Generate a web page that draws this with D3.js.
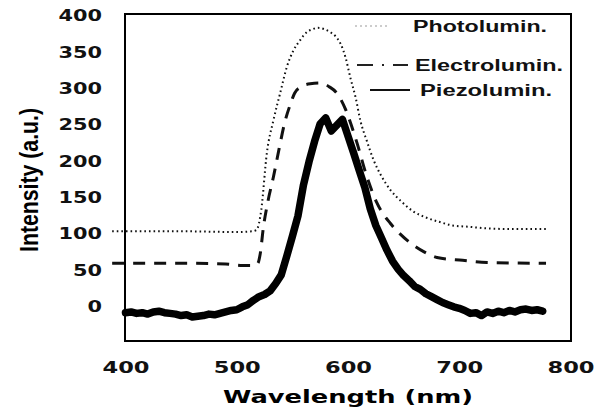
<!DOCTYPE html>
<html>
<head>
<meta charset="utf-8">
<script src="https://cdn.jsdelivr.net/npm/d3@7"></script>
<style>
  body { margin: 0; background: #fff; }
  svg { display: block; }
</style>
</head>
<body>
<svg id="chart" width="608" height="414"></svg>
<script>
// Spectra (wavelength in nm, intensity in a.u.)
const photoWl  = [388, 450, 500, 514, 518, 520, 522, 527, 533, 539, 545, 551, 557, 563, 568, 573, 579, 584, 589, 593, 598, 602, 607, 611, 617, 623, 630, 638, 648, 658, 670, 682, 694, 710, 725, 750, 778];
const photoVal = [104, 104, 103, 104, 106, 115, 133, 211, 257, 294, 330, 353, 367, 378, 382, 384, 382, 378, 372, 363, 342, 316, 287, 257, 228, 202, 180, 161, 145, 132, 123, 117, 112, 110, 108, 107, 107];

const electroWl  = [388, 450, 490, 505, 516, 519, 521, 524, 528, 533, 538, 543, 548, 552, 558, 566, 575, 583, 590, 598, 603, 608, 617, 626, 638, 647, 656, 668, 680, 703, 725, 778];
const electroVal = [60, 60, 59, 57, 57, 60, 72, 110, 145, 179, 217, 253, 278, 294, 303, 307, 308, 303, 294, 271, 250, 226, 179, 143, 115, 100, 88, 76, 68, 64, 61, 60];

// piezo spectrum is noisy, one reading every 5 nm from 400 to 775
const piezoWl = d3.range(400, 776, 5);
const piezoVal = [-8, -7, -9, -8, -10, -7, -6, -8, -9, -10,
                  -12, -11, -14, -13, -12, -10, -11, -9, -7, -5,
                  -4, 0, 3, 9, 14, 17, 22, 32, 44, 70,
                  97, 125, 168, 200, 228, 252, 260, 242, 250, 258,
                  235, 212, 188, 165, 135, 112, 95, 78, 63, 52,
                  43, 36, 28, 24, 18, 14, 10, 6, 3, 0,
                  -2, -5, -9, -8, -12, -7, -9, -6, -8, -5,
                  -7, -4, -3, -5, -4, -6];

const xTicks = [400, 500, 600, 700, 800];
const yTicks = [0, 50, 100, 150, 200, 250, 300, 350, 400];
const legendLabels = ["Photolumin.", "Electrolumin.", "Piezolumin."];

const svg = d3.select("#chart");

// plot box
const boxL = 125, boxR = 571, boxT = 14, boxB = 341;

const x = d3.scaleLinear().domain([400, 800]).range([125.5, 570.5]);
const y = d3.scaleLinear().domain([-47, 403]).range([boxB, boxT]);

const line = d3.line()
  .x(d => x(d[0]))
  .y(d => y(d[1]));

// curves
svg.append("path")
  .datum(d3.zip(photoWl, photoVal))
  .attr("d", line.curve(d3.curveMonotoneX))
  .attr("fill", "none")
  .attr("stroke", "#111")
  .attr("stroke-width", 2)
  .attr("stroke-dasharray", "1.6,3");

svg.append("path")
  .datum(d3.zip(electroWl, electroVal))
  .attr("d", line.curve(d3.curveMonotoneX))
  .attr("fill", "none")
  .attr("stroke", "#111")
  .attr("stroke-width", 3)
  .attr("stroke-dasharray", "12,9");

svg.append("path")
  .datum(d3.zip(piezoWl, piezoVal))
  .attr("d", line.curve(d3.curveLinear))
  .attr("fill", "none")
  .attr("stroke", "#000")
  .attr("stroke-width", 7.5)
  .attr("stroke-linejoin", "round")
  .attr("stroke-linecap", "round");

// frame
svg.append("rect")
  .attr("x", boxL).attr("y", boxT)
  .attr("width", boxR - boxL).attr("height", boxB - boxT)
  .attr("fill", "none")
  .attr("stroke", "#000")
  .attr("stroke-width", 2);

// axes, labels only (no tick marks in the original)
const yAxis = svg.append("g")
  .attr("transform", `translate(${boxL},0)`)
  .call(d3.axisLeft(y).tickValues(yTicks).tickSize(0).tickPadding(23));
yAxis.select(".domain").remove();
yAxis.selectAll("text")
  .attr("font-family", "DejaVu Sans")
  .attr("font-weight", "bold")
  .attr("font-size", 15)
  .attr("fill", "#111")
  .attr("textLength", d => String(d).length * 14.5)
  .attr("lengthAdjust", "spacingAndGlyphs");

const xAxis = svg.append("g")
  .attr("transform", `translate(0,${boxB})`)
  .call(d3.axisBottom(x).tickValues(xTicks).tickSize(0).tickPadding(20.5));
xAxis.select(".domain").remove();
xAxis.selectAll("text")
  .attr("font-family", "DejaVu Sans")
  .attr("font-weight", "bold")
  .attr("font-size", 16)
  .attr("fill", "#111")
  .attr("textLength", 47)
  .attr("lengthAdjust", "spacingAndGlyphs");

// axis titles
svg.append("text")
  .attr("x", 348).attr("y", 403)
  .attr("text-anchor", "middle")
  .attr("font-family", "DejaVu Sans")
  .attr("font-weight", "bold")
  .attr("font-size", 18)
  .attr("textLength", 250)
  .attr("lengthAdjust", "spacingAndGlyphs")
  .text("Wavelength (nm)");

svg.append("text")
  .attr("transform", "translate(38,180) scale(1.65,1) rotate(-90)")
  .attr("text-anchor", "middle")
  .attr("font-family", "Liberation Sans")
  .attr("font-weight", "bold")
  .attr("font-size", 16)
  .attr("textLength", 144)
  .attr("lengthAdjust", "spacingAndGlyphs")
  .text("Intensity (a.u.)");

// legend
const legendY = [26, 65, 90];
const legendTextX = [413, 415, 420];
const legendTextW = [134, 148, 132];

const leg = svg.append("g");
leg.append("line")
  .attr("x1", 355).attr("x2", 388)
  .attr("y1", legendY[0]).attr("y2", legendY[0])
  .attr("stroke", "#999").attr("stroke-width", 1.2)
  .attr("stroke-dasharray", "2,3");
leg.append("line")
  .attr("x1", 357).attr("x2", 408)
  .attr("y1", legendY[1]).attr("y2", legendY[1])
  .attr("stroke", "#222").attr("stroke-width", 2)
  .attr("stroke-dasharray", "16,9,2,9");
leg.append("line")
  .attr("x1", 370).attr("x2", 410)
  .attr("y1", legendY[2]).attr("y2", legendY[2])
  .attr("stroke", "#111").attr("stroke-width", 2);

leg.selectAll("text.lab")
  .data(legendLabels)
  .join("text")
  .attr("class", "lab")
  .attr("x", (d, i) => legendTextX[i])
  .attr("y", (d, i) => legendY[i] + 5.5)
  .attr("font-family", "Liberation Sans")
  .attr("font-weight", "bold")
  .attr("font-size", 16)
  .attr("fill", "#111")
  .attr("textLength", (d, i) => legendTextW[i])
  .attr("lengthAdjust", "spacingAndGlyphs")
  .text(d => d);
</script>
</body>
</html>
